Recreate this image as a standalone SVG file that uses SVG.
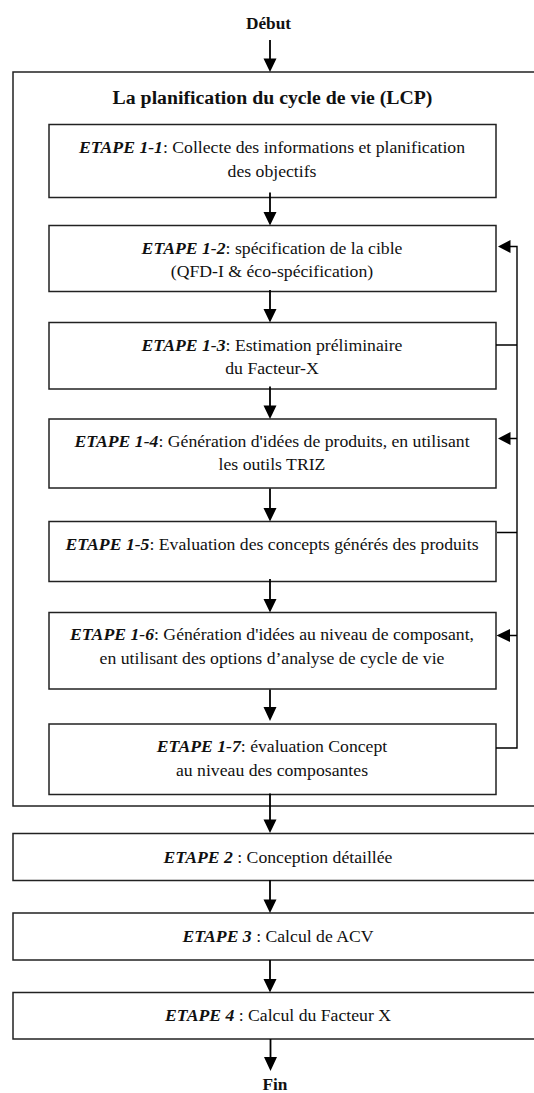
<svg xmlns="http://www.w3.org/2000/svg" width="534" height="1093" viewBox="0 0 534 1093">
<style>
text{font-family:"Liberation Serif","Times New Roman",serif;font-size:17.7px;fill:#111;text-anchor:middle}
.t{font-weight:bold}
.e{font-weight:bold;font-style:italic}
.b{fill:#fff;stroke:#222;stroke-width:1.5}
.c{fill:none;stroke:#000;stroke-width:1.4}
.a{fill:none;stroke:#000;stroke-width:1.8}
.h{fill:#000}
</style>
<rect width="534" height="1093" fill="#fff"/>
<g id="outer"><rect class="b" x="13" y="72" width="530" height="734"/><text class="t" x="272.500" y="103.500" style="font-size:19.800px">La planification du cycle de vie (LCP)</text></g>
<g id="debut"><text class="t" x="268.500" y="28.500" style="font-size:17.300px">Début</text></g>
<g id="e11"><rect class="b" x="49" y="124.500" width="447" height="73"/><text x="272" y="152.500"><tspan class="e">ETAPE 1-1</tspan>: Collecte des informations et planification</text><text x="272" y="176.500">des objectifs</text></g>
<g id="e12"><rect class="b" x="49" y="225.500" width="447" height="66"/><text x="272" y="254"><tspan class="e">ETAPE 1-2</tspan>: spécification de la cible</text><text x="272" y="276.500">(QFD-I &amp; éco-spécification)</text></g>
<g id="e13"><rect class="b" x="49" y="322.500" width="447" height="66.500"/><text x="272" y="350.500"><tspan class="e">ETAPE 1-3</tspan>: Estimation préliminaire</text><text x="272" y="374">du Facteur-X</text></g>
<g id="e14"><rect class="b" x="49" y="419" width="447" height="69"/><text x="272" y="447"><tspan class="e">ETAPE 1-4</tspan>: Génération d'idées de produits, en utilisant</text><text x="272" y="470">les outils TRIZ</text></g>
<g id="e15"><rect class="b" x="49" y="521.500" width="447" height="60"/><text x="272" y="550"><tspan class="e">ETAPE 1-5</tspan>: Evaluation des concepts générés des produits</text></g>
<g id="e16"><rect class="b" x="49" y="612.500" width="447" height="76.500"/><text x="272" y="640"><tspan class="e">ETAPE 1-6</tspan>: Génération d'idées au niveau de composant,</text><text x="272" y="664">en utilisant des options d’analyse de cycle de vie</text></g>
<g id="e17"><rect class="b" x="49" y="724" width="447" height="70.500"/><text x="272" y="752"><tspan class="e">ETAPE 1-7</tspan>: évaluation Concept</text><text x="272" y="775.500">au niveau des composantes</text></g>
<g id="e2"><rect class="b" x="13" y="833.500" width="530" height="47"/><text x="278" y="862.500"><tspan class="e">ETAPE 2</tspan> : Conception détaillée</text></g>
<g id="e3"><rect class="b" x="13" y="913" width="530" height="47"/><text x="278" y="941.500"><tspan class="e">ETAPE 3</tspan> : Calcul de ACV</text></g>
<g id="e4"><rect class="b" x="13" y="992.500" width="530" height="46.500"/><text x="278" y="1020.500"><tspan class="e">ETAPE 4</tspan> : Calcul du Facteur X</text></g>
<g id="fin"><text class="t" x="275" y="1090" style="font-size:17.300px">Fin</text></g>
<g id="connectors">
<path class="a" d="M270 40V60M270 192.500V213M270 290V310M270 386.500V407M270 488.500V510M270 579V600M270 689.500V710M270 793.500V820M270 880V900M270 960V980M270.500 1039V1058"/>
<path class="h" d="M263.500 58.500H276.500L270 72ZM263.500 212H276.500L270 225.500ZM263.500 309H276.500L270 322.500ZM263.500 405.500H276.500L270 419ZM263.500 508H276.500L270 521.500ZM263.500 599H276.500L270 612.500ZM263.500 707H276.500L270 721ZM263.500 819.500H276.500L270 833ZM263.500 899.500H276.500L270 913ZM263.500 979H276.500L270 992.500ZM264 1057H277L270.500 1071Z"/>
<path class="c" d="M496 748H517V246.500H508M496 345H517M497 532.500H517M508 438.500H517M508 635.500H517"/>
<path class="h" d="M510.500 240V253L498 246.500ZM510.500 432V445L498 438.500ZM510 629V642L496.500 635.500Z"/>
</g>
</svg>
